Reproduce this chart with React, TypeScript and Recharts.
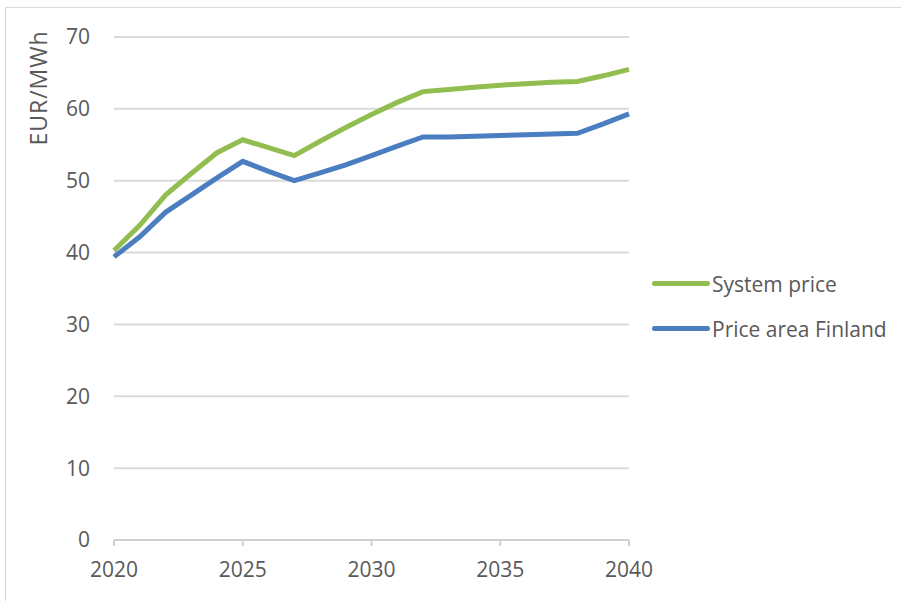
import { CartesianGrid, Line, LineChart, XAxis, YAxis } from "recharts";

const years = [
  2020, 2021, 2022, 2023, 2024, 2025, 2026, 2027, 2028, 2029, 2030, 2031, 2032,
  2033, 2034, 2035, 2036, 2037, 2038, 2039, 2040,
];
const systemPrice = [
  40.3, 43.8, 48.0, 51.0, 53.9, 55.7, 54.6, 53.5, 55.5, 57.4, 59.2, 60.9, 62.4,
  62.7, 63.0, 63.3, 63.5, 63.7, 63.8, 64.6, 65.5,
];
const finlandPrice = [
  39.4, 42.2, 45.6, 48.0, 50.4, 52.7, 51.3, 50.0, 51.1, 52.2, 53.5, 54.8, 56.1,
  56.1, 56.2, 56.3, 56.4, 56.5, 56.6, 57.9, 59.3,
];
const xTicks = [2020, 2025, 2030, 2035, 2040];
const yTicks = [0, 10, 20, 30, 40, 50, 60, 70];

const series = [
  { key: "system", name: "System price", color: "#92bd50" },
  { key: "finland", name: "Price area Finland", color: "#4a7ec0" },
];

const data = years.map((year, i) => ({
  year,
  system: systemPrice[i],
  finland: finlandPrice[i],
}));

const FONT = "'Open Sans', sans-serif";
const TEXT = "#595959";
const SIZE = 21;

// legend sits to the right of the plot, kept out of the chart layout
function LegendBox() {
  return (
    <div
      style={{
        position: "absolute",
        left: 652,
        top: 261,
        fontFamily: FONT,
        fontSize: SIZE,
        color: TEXT,
      }}
    >
      {series.map((s) => (
        <div
          key={s.key}
          style={{ display: "flex", alignItems: "center", height: 45 }}
        >
          <span
            style={{
              display: "inline-block",
              width: 58,
              height: 5,
              borderRadius: 3,
              background: s.color,
              marginRight: 2,
            }}
          />
          <span>{s.name}</span>
        </div>
      ))}
    </div>
  );
}

export default function App() {
  return (
    <div
      style={{
        position: "absolute",
        left: 0,
        top: 0,
        width: 901,
        height: 601,
        background: "#fff",
        overflow: "hidden",
      }}
    >
      <div
        style={{
          position: "absolute",
          left: 5,
          top: 7,
          width: 900,
          height: 600,
          border: "1px solid #d9d9d9",
        }}
      />
      <LineChart
        width={901}
        height={601}
        data={data}
        margin={{ top: 37, right: 272, bottom: 31, left: 74 }}
      >
        <CartesianGrid
          horizontal
          vertical={false}
          stroke="#d9d9d9"
          strokeWidth={2}
        />
        <XAxis
          dataKey="year"
          type="number"
          domain={[2020, 2040]}
          ticks={xTicks}
          interval={0}
          height={30}
          stroke="#d0d0d0"
          strokeWidth={2}
          tickSize={6}
          tickMargin={16}
          tick={{ fill: TEXT, fontSize: SIZE, fontFamily: FONT }}
        />
        <YAxis
          width={40}
          domain={[0, 70]}
          ticks={yTicks}
          interval={0}
          axisLine={false}
          tickLine={false}
          tickSize={0}
          tickMargin={24}
          tick={{ fill: TEXT, fontSize: SIZE, fontFamily: FONT }}
          label={{
            content: () => (
              <text
                x={38}
                y={88}
                transform="rotate(-90 38 88)"
                textAnchor="middle"
                dominantBaseline="central"
                fill={TEXT}
                fontSize={23}
                fontFamily={FONT}
                letterSpacing={1}
              >
                EUR/MWh
              </text>
            ),
          }}
        />
        {series.map((s) => (
          <Line
            key={s.key}
            dataKey={s.key}
            name={s.name}
            stroke={s.color}
            strokeWidth={5}
            dot={false}
            isAnimationActive={false}
          />
        ))}
      </LineChart>
      <LegendBox />
    </div>
  );
}
